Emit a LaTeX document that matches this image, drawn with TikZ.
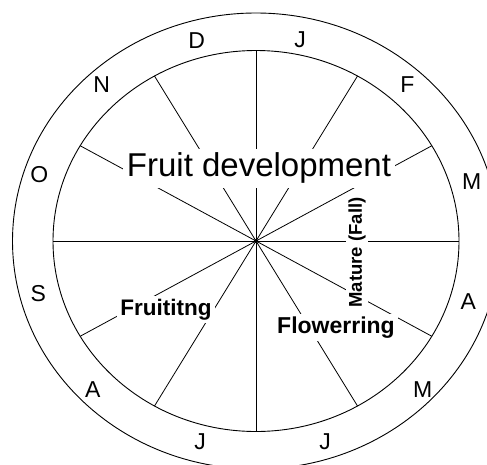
\documentclass[tikz,border=0pt]{standalone}
\usepackage{fontspec}
\setmainfont{Liberation Sans}
\begin{document}
\begin{tikzpicture}[x=1pt,y=-1pt,
  ring/.style={draw=black, line width=0.9pt},
  spoke/.style={draw=black, line width=0.8pt},
  month/.style={inner sep=0pt, font=\fontsize{23}{26}\selectfont},
  phase/.style={fill=white, inner sep=3pt, font=\bfseries\fontsize{22}{26}\selectfont},
  title/.style={fill=white, inner sep=4pt, font=\fontsize{33}{38}\selectfont}]
\useasboundingbox (0,0) rectangle (487,464);
\clip (0,0) rectangle (487,464);
\fill[white] (0,0) rectangle (487,464);
% rings
\draw[ring] (256,241) ellipse [x radius=243.5pt, y radius=228pt];
\draw[ring] (256,241) ellipse [x radius=203pt, y radius=190.5pt];
% centre
\node[circle, fill=black, inner sep=0pt, minimum size=4pt] (c) at (256,241) {};
% spokes
\foreach \k in {0,...,11}{
  \coordinate (s\k) at ({256+203*cos(30*\k)},{241-190.5*sin(30*\k)});
  \draw[spoke] (c.center) -- (s\k);
}
% month letters
\node[month] (mD)  at (196.7,40.5) {D};
\node[month] (mJ1) at (300,40) {J};
\node[month] (mF)  at (407.3,85) {F};
\node[month] (mM1) at (471.7,182) {M};
\node[month] (mA1) at (468.3,301.7) {A};
\node[month] (mM2) at (422.7,390) {M};
\node[month] (mJ2) at (325,441.7) {J};
\node[month] (mJ3) at (200,441.7) {J};
\node[month] (mA2) at (92.7,390) {A};
\node[month] (mS)  at (38.3,293.3) {S};
\node[month] (mO)  at (39.3,175) {O};
\node[month] (mN)  at (101.7,85) {N};
% labels
\node[title, anchor=base] (fd) at (259,176.7) {Fruit development};
\node[phase, anchor=base, font=\bfseries\fontsize{22.5}{26}\selectfont] (fr) at (166,315) {Fruititng};
\node[phase, anchor=base, font=\bfseries\fontsize{23}{26}\selectfont] (fl) at (336,333.3) {Flowerring};
\node[phase, rotate=90, inner sep=2pt, font=\bfseries\fontsize{18.5}{22}\selectfont] (mt) at (357,252.5) {Mature (Fall)};
\end{tikzpicture}
\end{document}
